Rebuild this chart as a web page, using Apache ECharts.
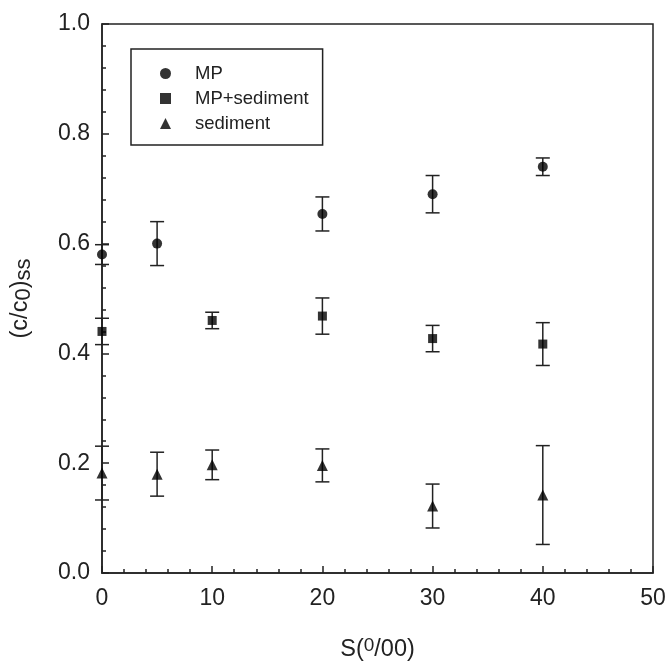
<!DOCTYPE html>
<html>
<head>
<meta charset="utf-8">
<script src="https://cdn.jsdelivr.net/npm/echarts@6/dist/echarts.min.js"></script>
<style>
  html, body { margin: 0; padding: 0; background: #fff; }
  #chart { width: 667px; height: 662px; }
</style>
</head>
<body>
<div id="chart"></div>
<script>
// salinity (x) values per series
const mpS = [0, 5, 20, 30, 40];
const mpMean = [0.580, 0.600, 0.654, 0.690, 0.740];
const mpErr = [0.018, 0.040, 0.031, 0.034, 0.016];

const mpsS = [0, 10, 20, 30, 40];
const mpsMean = [0.440, 0.460, 0.468, 0.427, 0.417];
const mpsErr = [0.024, 0.015, 0.033, 0.024, 0.039];

const sedS = [0, 5, 10, 20, 30, 40];
const sedMean = [0.182, 0.180, 0.197, 0.196, 0.122, 0.142];
const sedErr = [0.049, 0.040, 0.027, 0.030, 0.040, 0.090];

const seriesNames = ['MP', 'MP+sediment', 'sediment'];
const ink = '#222';
const font = 'Liberation Sans, Arial, sans-serif';

function points(xs, ys) {
  return xs.map((x, i) => [x, ys[i]]);
}

function bars(xs, ys, errs) {
  return xs.map((x, i) => [x, ys[i] - errs[i], ys[i] + errs[i]]);
}

function renderBar(params, api) {
  const lo = api.coord([api.value(0), api.value(1)]);
  const hi = api.coord([api.value(0), api.value(2)]);
  const half = 7;
  const style = { stroke: ink, lineWidth: 1.5 };
  return {
    type: 'group',
    children: [
      { type: 'line', shape: { x1: lo[0], y1: lo[1], x2: hi[0], y2: hi[1] }, style },
      { type: 'line', shape: { x1: hi[0] - half, y1: hi[1], x2: hi[0] + half, y2: hi[1] }, style },
      { type: 'line', shape: { x1: lo[0] - half, y1: lo[1], x2: lo[0] + half, y2: lo[1] }, style }
    ]
  };
}

function errSeries(name, data) {
  return {
    name: name,
    type: 'custom',
    renderItem: renderBar,
    data: data,
    encode: { x: 0, y: [1, 2] },
    clip: false,
    silent: true,
    z: 2
  };
}

function dotSeries(name, data, symbol, size) {
  return {
    name: name,
    type: 'scatter',
    data: data,
    symbol: symbol,
    symbolSize: size,
    itemStyle: { color: '#000' },
    clip: false,
    z: 3
  };
}

const chart = echarts.init(document.getElementById('chart'), null, { renderer: 'canvas' });

chart.setOption({
  animation: false,
  backgroundColor: '#fff',
  textStyle: { fontFamily: font },
  grid: {
    left: 102, right: 14, top: 24, bottom: 89,
    outerBoundsMode: 'none',
    containLabel: false,
    show: true, borderColor: ink, borderWidth: 1.5, backgroundColor: 'transparent'
  },
  legend: {
    data: seriesNames,
    orient: 'vertical',
    left: 131, top: 49,
    padding: [15, 14, 12, 29],
    itemWidth: 11, itemHeight: 11, itemGap: 6,
    borderColor: ink, borderWidth: 1.5,
    textStyle: { fontSize: 18.5, color: ink, lineHeight: 17.5, fontFamily: font, padding: [0, 0, 0, 19] }
  },
  xAxis: {
    type: 'value',
    min: 0, max: 50, interval: 10,
    name: 'S({sup|0}/00)',
    nameLocation: 'middle',
    nameGap: 63,
    nameTextStyle: {
      fontSize: 23.5, color: ink, fontFamily: font, lineHeight: 28, verticalAlign: 'top',
      rich: {
        sup: { fontSize: 19, color: ink, fontFamily: font, verticalAlign: 'top', lineHeight: 17 }
      }
    },
    axisLine: { lineStyle: { color: ink, width: 1.5 } },
    axisTick: { inside: true, length: 7, lineStyle: { color: ink, width: 1.5 } },
    minorTick: { show: true, splitNumber: 5, length: 4, lineStyle: { color: ink, width: 1.5 } },
    axisLabel: { fontSize: 23, color: ink, margin: 14, fontFamily: font },
    splitLine: { show: false }
  },
  yAxis: {
    type: 'value',
    min: 0, max: 1, interval: 0.2,
    name: '(c/c{sub|0}){sub|ss}',
    nameLocation: 'middle',
    nameRotate: 90,
    nameGap: 67,
    nameTextStyle: {
      fontSize: 23.5, color: ink, fontFamily: font, lineHeight: 28,
      rich: {
        sub: { fontSize: 22, color: ink, fontFamily: font, verticalAlign: 'bottom', lineHeight: 22, padding: [7, 0, 0, 0] }
      }
    },
    axisLine: { lineStyle: { color: ink, width: 1.5 } },
    axisTick: { inside: true, length: 7, lineStyle: { color: ink, width: 1.5 } },
    minorTick: { show: true, splitNumber: 5, length: 4, lineStyle: { color: ink, width: 1.5 } },
    axisLabel: {
      fontSize: 23, color: ink, margin: 12, fontFamily: font,
      formatter: v => v.toFixed(1)
    },
    splitLine: { show: false }
  },
  series: [
    errSeries('MP err', bars(mpS, mpMean, mpErr)),
    errSeries('MP+sediment err', bars(mpsS, mpsMean, mpsErr)),
    errSeries('sediment err', bars(sedS, sedMean, sedErr)),
    dotSeries('MP', points(mpS, mpMean), 'circle', 10),
    dotSeries('MP+sediment', points(mpsS, mpsMean), 'rect', 9),
    dotSeries('sediment', points(sedS, sedMean), 'triangle', 11)
  ]
});
</script>
</body>
</html>
